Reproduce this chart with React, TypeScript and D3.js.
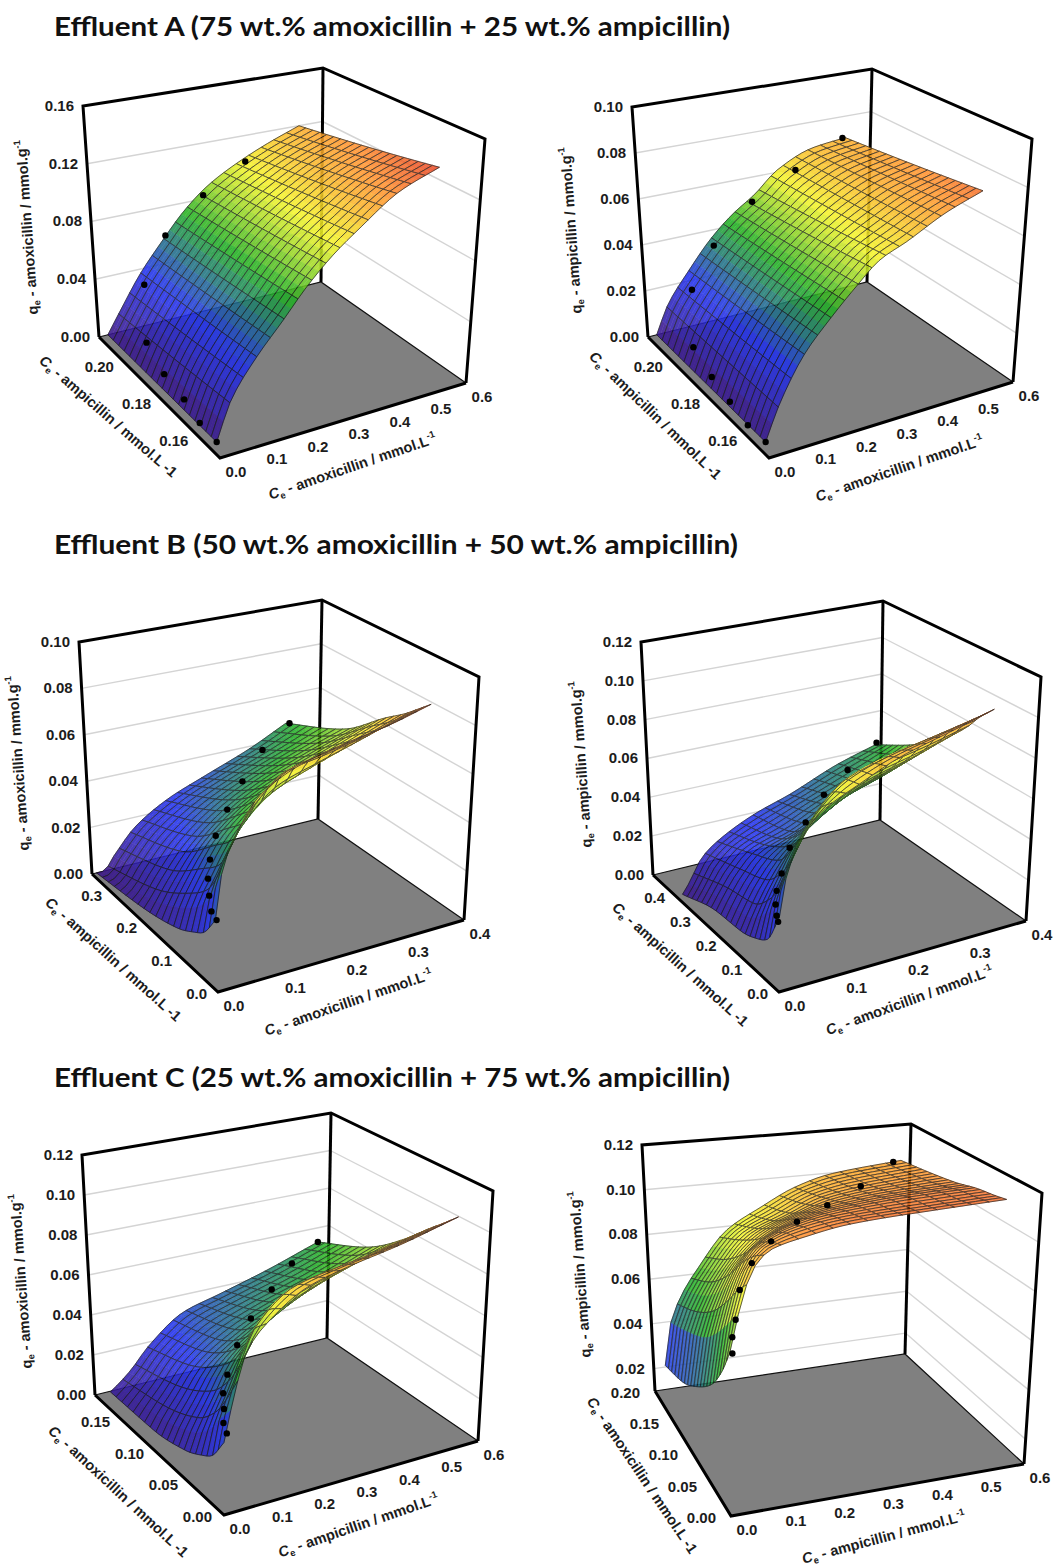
import React, { useEffect, useRef } from 'react';
import * as d3 from 'd3';

// surface tables: rows follow the v knots, columns the u knots
const a1U = [0.024, 0.06, 0.12, 0.18, 0.24, 0.3, 0.36, 0.45, 0.54];
const a1V = [0.157, 0.215];
const a1Z = [
  [0, 0.024, 0.046, 0.064, 0.083, 0.099, 0.112, 0.13, 0.14],
  [0, 0.014, 0.037, 0.056, 0.074, 0.088, 0.098, 0.11, 0.12],
];
const a1Dots = [[0.024, 0.157, 0], [0.01, 0.163, 0.006], [0.002, 0.1695, 0.014], [0.002, 0.18, 0.018], [0.002, 0.189, 0.028], [0.016, 0.192, 0.062], [0.108, 0.199, 0.082], [0.246, 0.2066, 0.094], [0.402, 0.215, 0.101]];

const a2U = [0.024, 0.06, 0.12, 0.18, 0.24, 0.3, 0.36, 0.45, 0.535];
const a2V = [0.157, 0.215];
const a2Z = [
  [0, 0.0135, 0.03, 0.041, 0.051, 0.06, 0.0645, 0.0725, 0.078],
  [0, 0.012, 0.0245, 0.036, 0.045, 0.052, 0.061, 0.068, 0.07],
];
const a2Dots = [[0.024, 0.157, 0], [0.008, 0.163, 0.003], [0.001, 0.171, 0.0068], [0.001, 0.1805, 0.0098], [0.001, 0.19, 0.015], [0.018, 0.193, 0.036], [0.102, 0.198, 0.048], [0.228, 0.203, 0.059], [0.378, 0.21, 0.0635], [0.528, 0.215, 0.07]];

const b1U = [0.008, 0.02, 0.04, 0.08, 0.14, 0.2, 0.28, 0.342];
const b1V = [0.02, 0.054, 0.079, 0.126, 0.216, 0.36];
const b1Z = [
  [0.025, 0.044, 0.056, 0.07, 0.078, 0.082, 0.086, 0.0905],
  [0.016, 0.03, 0.041, 0.058, 0.072, 0.075, 0.08, 0.085],
  [0.013, 0.024, 0.033, 0.049, 0.062, 0.068, 0.075, 0.081],
  [0.0085, 0.017, 0.026, 0.041, 0.053, 0.06, 0.068, 0.0745],
  [0.004, 0.008, 0.015, 0.027, 0.039, 0.047, 0.055, 0.0605],
  [0, 0, 0.0055, 0.016, 0.025, 0.031, 0.039, 0.047],
];
const b1Dots = [[0.01, 0.02, 0.025], [0.011, 0.036, 0.0264], [0.018, 0.054, 0.03], [0.027, 0.072, 0.034], [0.045, 0.097, 0.0375], [0.072, 0.126, 0.042], [0.113, 0.162, 0.046], [0.172, 0.216, 0.048], [0.248, 0.281, 0.0495], [0.348, 0.36, 0.0466]];

const b2U = [0.012, 0.024, 0.048, 0.08, 0.14, 0.2, 0.28, 0.344];
const b2V = [0.027, 0.0735, 0.108, 0.1715, 0.27, 0.402];
const b2Z = [
  [0.031, 0.05, 0.066, 0.076, 0.085, 0.093, 0.1, 0.106],
  [0.0156, 0.032, 0.048, 0.066, 0.083, 0.089, 0.094, 0.098],
  [0.012, 0.024, 0.038, 0.055, 0.072, 0.079, 0.085, 0.0906],
  [0.0084, 0.0156, 0.028, 0.04, 0.054, 0.064, 0.072, 0.08],
  [0.0072, 0.013, 0.023, 0.032, 0.038, 0.047, 0.056, 0.067],
  [0, 0.0048, 0.0162, 0.0234, 0.032, 0.038, 0.048, 0.054],
];
const b2Dots = [[0.01, 0.027, 0.029], [0.017, 0.049, 0.029], [0.026, 0.074, 0.031], [0.038, 0.098, 0.034], [0.061, 0.132, 0.037], [0.092, 0.172, 0.043], [0.14, 0.22, 0.047], [0.2, 0.284, 0.05], [0.268, 0.343, 0.052], [0.346, 0.402, 0.055]];

const c1U = [0.018, 0.036, 0.072, 0.12, 0.21, 0.3, 0.42, 0.546];
const c1V = [0.0105, 0.0285, 0.042, 0.0665, 0.114, 0.177];
const c1Z = [
  [0.029, 0.044, 0.068, 0.079, 0.091, 0.096, 0.101, 0.108],
  [0.018, 0.034, 0.05, 0.072, 0.087, 0.091, 0.095, 0.101],
  [0.0144, 0.026, 0.041, 0.059, 0.076, 0.083, 0.09, 0.096],
  [0.0096, 0.018, 0.03, 0.046, 0.06, 0.07, 0.079, 0.086],
  [0.0054, 0.011, 0.02, 0.032, 0.044, 0.052, 0.06, 0.07],
  [0.0048, 0.0072, 0.013, 0.023, 0.036, 0.041, 0.048, 0.057],
];
const c1Dots = [[0.024, 0.01, 0.033], [0.031, 0.019, 0.035], [0.048, 0.0285, 0.038], [0.062, 0.038, 0.042], [0.094, 0.051, 0.0456], [0.144, 0.0665, 0.053], [0.21, 0.0855, 0.0576], [0.304, 0.11, 0.061], [0.414, 0.1425, 0.0607], [0.546, 0.177, 0.057]];

const c2U = [0.007, 0.021, 0.054, 0.09, 0.156, 0.234, 0.312, 0.39, 0.545];
const c2V = [0.01, 0.029, 0.054, 0.09, 0.13, 0.176];
const c2Z = [
  [0.0705, 0.0826, 0.1019, 0.1085, 0.1118, 0.1145, 0.1156, 0.1162, 0.1173],
  [0.0595, 0.076, 0.0969, 0.1057, 0.1107, 0.1134, 0.1145, 0.1151, 0.1162],
  [0.049, 0.0672, 0.0881, 0.1002, 0.1074, 0.1112, 0.1129, 0.114, 0.1151],
  [0.0397, 0.0573, 0.076, 0.0881, 0.0991, 0.1057, 0.109, 0.1107, 0.1123],
  [0.032, 0.0507, 0.0661, 0.0771, 0.0914, 0.098, 0.1046, 0.1074, 0.1101],
  [0.0276, 0.0441, 0.0584, 0.0683, 0.0837, 0.0925, 0.1002, 0.1046, 0.1079],
];
const c2Dots = [[0.012, 0.01, 0.07], [0.017, 0.016, 0.075], [0.034, 0.028, 0.079], [0.053, 0.04, 0.088], [0.096, 0.06, 0.094], [0.159, 0.084, 0.097], [0.24, 0.11, 0.0987], [0.334, 0.136, 0.099], [0.436, 0.16, 0.101], [0.528, 0.176, 0.1075]];

const ticks06 = [0, 0.1, 0.2, 0.3, 0.4, 0.5, 0.6];
const ticks04 = [0, 0.1, 0.2, 0.3, 0.4];

const titles = [
  { text: 'Effluent A (75 wt.% amoxicillin + 25 wt.% ampicillin)', y: 36, w: 676 },
  { text: 'Effluent B (50 wt.% amoxicillin + 50 wt.% ampicillin)', y: 554, w: 684 },
  { text: 'Effluent C (25 wt.% amoxicillin + 75 wt.% ampicillin)', y: 1087, w: 676 },
];

const colorStops = [0, 0.28, 0.52, 0.72, 0.9, 1];
const colorRange = ['#3b1585', '#2030ee', '#22b022', '#f4f428', '#ff8f2c', '#e63a26'];

const panels: any[] = [
  {
    ff: [220, 458], fr: [466, 383], fl: [99, 337], fb: [321, 282], tl: [83, 106], tb: [323, 68], tr: [485, 139],
    uDom: [0, 0.6], vDom: [0.15, 0.215], zDom: [0, 0.16], colorMax: 0.142,
    uK: a1U, vK: a1V, zT: a1Z, dots: a1Dots,
    uTicks: ticks06, vTicks: [0.16, 0.18, 0.2], zTicks: [0, 0.04, 0.08, 0.12, 0.16], vFmt: '.2f', dxV: -13,
    zTitle: [32, 227, -94], vTitle: [105, 420, 41], uTitle: [354, 471, -19],
    zName: 'amoxicillin', vName: 'ampicillin', uName: 'amoxicillin',
  },
  {
    ff: [769, 458], fr: [1013, 382], fl: [648, 337], fb: [867, 282], tl: [632, 107], tb: [872, 69], tr: [1032, 139],
    uDom: [0, 0.6], vDom: [0.15, 0.215], zDom: [0, 0.1], colorMax: 0.083,
    uK: a2U, vK: a2V, zT: a2Z, dots: a2Dots,
    uTicks: ticks06, vTicks: [0.16, 0.18, 0.2], zTicks: [0, 0.02, 0.04, 0.06, 0.08, 0.1], vFmt: '.2f', dxV: -13,
    zTitle: [576, 230, -94], vTitle: [652, 419, 44], uTitle: [901, 473, -19],
    zName: 'ampicillin', vName: 'ampicillin', uName: 'amoxicillin',
  },
  {
    ff: [218, 992], fr: [464, 920], fl: [92, 874], fb: [318, 819], tl: [79, 642], tb: [322, 600], tr: [479, 677],
    uDom: [0, 0.4], vDom: [0, 0.36], zDom: [0, 0.1], colorMax: 0.095,
    uK: b1U, vK: b1V, zT: b1Z, dots: b1Dots,
    uTicks: ticks04, vTicks: [0, 0.1, 0.2, 0.3], zTicks: [0, 0.02, 0.04, 0.06, 0.08, 0.1], vFmt: '.1f', dxV: -11,
    zTitle: [23, 763, -94], vTitle: [110, 963, 42], uTitle: [350, 1007, -19],
    zName: 'amoxicillin', vName: 'ampicillin', uName: 'amoxicillin',
  },
  {
    ff: [779, 992], fr: [1026, 921], fl: [653, 875], fb: [880, 820], tl: [641, 642], tb: [883, 601], tr: [1041, 677],
    uDom: [0, 0.4], vDom: [0, 0.49], zDom: [0, 0.12], colorMax: 0.112,
    uK: b2U, vK: b2V, zT: b2Z, dots: b2Dots,
    uTicks: ticks04, vTicks: [0, 0.1, 0.2, 0.3, 0.4], zTicks: [0, 0.02, 0.04, 0.06, 0.08, 0.1, 0.12], vFmt: '.1f', dxV: -11,
    zTitle: [586, 764, -94], vTitle: [677, 968, 42], uTitle: [911, 1005, -20],
    zName: 'ampicillin', vName: 'ampicillin', uName: 'amoxicillin',
  },
  {
    ff: [224, 1515], fr: [478, 1441], fl: [95, 1395], fb: [327, 1338], tl: [82, 1155], tb: [331, 1113], tr: [493, 1191],
    uDom: [0, 0.6], vDom: [0, 0.19], zDom: [0, 0.12], colorMax: 0.113,
    uK: c1U, vK: c1V, zT: c1Z, dots: c1Dots,
    uTicks: ticks06, vTicks: [0, 0.05, 0.1, 0.15], zTicks: [0, 0.02, 0.04, 0.06, 0.08, 0.1, 0.12], vFmt: '.2f', dxV: -12,
    zTitle: [26, 1281, -94], vTitle: [115, 1495, 43], uTitle: [360, 1530, -19],
    zName: 'amoxicillin', vName: 'amoxicillin', uName: 'ampicillin',
  },
  {
    ff: [731, 1516], fr: [1024, 1464], fl: [655, 1391], fb: [905, 1354], tl: [642, 1145], tb: [911, 1124], tr: [1042, 1193],
    uDom: [0, 0.6], vDom: [0, 0.2], zDom: [0.01, 0.12], colorMax: 0.124,
    uK: c2U, vK: c2V, zT: c2Z, dots: c2Dots,
    uTicks: ticks06, vTicks: [0, 0.05, 0.1, 0.15, 0.2], zTicks: [0.02, 0.04, 0.06, 0.08, 0.1, 0.12], vFmt: '.2f', dxV: -15,
    zTitle: [585, 1274, -94], vTitle: [638, 1478, 56], uTitle: [885, 1542, -15],
    zName: 'ampicillin', vName: 'amoxicillin', uName: 'ampicillin',
  },
];

const MESH_U = 16;
const MESH_V = 20;
const SUB = 2;
const LABEL_FONT = '"Liberation Sans", Arial, sans-serif';

// monotone cubic through the read values, so the mesh stays smooth between knots
function monotone(xs: number[], ys: number[]) {
  const n = xs.length;
  if (n === 2) return (x: number) => ys[0] + (ys[1] - ys[0]) * (x - xs[0]) / (xs[1] - xs[0]);
  const d: number[] = [];
  for (let i = 0; i < n - 1; i++) d.push((ys[i + 1] - ys[i]) / (xs[i + 1] - xs[i]));
  const m = [d[0]];
  for (let i = 1; i < n - 1; i++) m.push(d[i - 1] * d[i] <= 0 ? 0 : 2 * d[i - 1] * d[i] / (d[i - 1] + d[i]));
  m.push(d[n - 2]);
  return (x: number) => {
    let i = 0;
    while (i < n - 2 && x > xs[i + 1]) i++;
    const h = xs[i + 1] - xs[i], t = (x - xs[i]) / h;
    const t2 = t * t, t3 = t2 * t;
    return (2 * t3 - 3 * t2 + 1) * ys[i] + (t3 - 2 * t2 + t) * h * m[i] + (-2 * t3 + 3 * t2) * ys[i + 1] + (t3 - t2) * h * m[i + 1];
  };
}

const mix = (p: number[], q: number[], t: number) => [p[0] + (q[0] - p[0]) * t, p[1] + (q[1] - p[1]) * t];

function makeProjection(p: any) {
  const su = d3.scaleLinear().domain(p.uDom).range([0, 1]);
  const sv = d3.scaleLinear().domain(p.vDom).range([0, 1]);
  const sz = d3.scaleLinear().domain(p.zDom).range([0, 1]);
  // the front top corner is not drawn, it follows from the three visible verticals
  const tf = [
    p.ff[0] + (p.tl[0] - p.fl[0]) + (p.tr[0] - p.fr[0]) - (p.tb[0] - p.fb[0]),
    p.ff[1] + (p.tl[1] - p.fl[1]) + (p.tr[1] - p.fr[1]) - (p.tb[1] - p.fb[1]),
  ];
  return (u: number, v: number, z: number) => {
    const a = sv(v), b = su(u), w = sz(z);
    const floor = mix(mix(p.ff, p.fr, b), mix(p.fl, p.fb, b), a);
    const top = mix(mix(tf, p.tr, b), mix(p.tl, p.tb, b), a);
    return mix(floor, top, w);
  };
}

function drawTitle(g: any, spec: number[], parts: any[]) {
  const t = g.append('text')
    .attr('transform', 'translate(' + spec[0] + ',' + spec[1] + ') rotate(' + spec[2] + ')')
    .attr('text-anchor', 'middle')
    .attr('font-family', LABEL_FONT)
    .attr('font-weight', 700)
    .attr('font-size', 14.6)
    .attr('fill', '#1c1c1c');
  let back = 0;
  parts.forEach(part => {
    const s = t.append('tspan').text(part.t);
    let dy = back;
    back = 0;
    if (part.k === 'sub') { dy += 3; back = -3; s.attr('font-size', 9.5); }
    if (part.k === 'sup') { dy += -6; back = 6; s.attr('font-size', 9.5); }
    if (part.k === 'i') s.attr('font-style', 'italic');
    if (dy) s.attr('dy', dy);
  });
}

function drawPanel(root: any, p: any) {
  const g = root.append('g');
  const proj = makeProjection(p);
  const line = d3.line();
  const [u0, u1] = p.uDom, [v0, v1] = p.vDom, [z0, z1] = p.zDom;

  const wall = (pts: number[][]) => line(pts as any);
  p.zTicks.forEach((z: number) => {
    if (z === z0 || z === z1) return;
    [[proj(u0, v1, z), proj(u1, v1, z)], [proj(u1, v1, z), proj(u1, v0, z)]].forEach(seg => {
      g.append('path').attr('d', wall(seg)).attr('stroke', '#d4d4d4').attr('stroke-width', 1.4).attr('fill', 'none');
    });
  });

  g.append('path')
    .attr('d', line([p.ff, p.fr, p.fb, p.fl] as any) + 'Z')
    .attr('fill', '#808080');
  g.append('path').attr('d', line([p.fl, p.fb, p.fr] as any)).attr('stroke', '#111').attr('stroke-width', 1.2).attr('fill', 'none');

  const heavy = [
    [p.fl, p.tl, p.tb, p.tr, p.fr],
    [p.fb, p.tb],
    [p.fl, p.ff, p.fr],
  ];
  heavy.forEach(seg => {
    g.append('path').attr('d', line(seg as any)).attr('stroke', '#000').attr('stroke-width', 3).attr('fill', 'none').attr('stroke-linejoin', 'miter');
  });

  // surface, resampled on the mesh from the table
  const color = d3.scaleLinear<string>()
    .domain(colorStops.map(s => s * p.colorMax))
    .range(colorRange)
    .clamp(true);
  const nu = MESH_U * SUB, nv = MESH_V * SUB;
  const uAxis = d3.range(nu + 1).map(i => p.uK[0] + (p.uK[p.uK.length - 1] - p.uK[0]) * i / nu);
  const vAxis = d3.range(nv + 1).map(j => p.vK[0] + (p.vK[p.vK.length - 1] - p.vK[0]) * j / nv);
  const rowFns = p.zT.map((row: number[]) => monotone(p.uK, row));
  const zGrid = uAxis.map(u => {
    const col = monotone(p.vK, rowFns.map((f: any) => f(u)));
    return vAxis.map(v => Math.max(col(v), 0));
  });
  const pt = (i: number, j: number) => proj(uAxis[i], vAxis[j], zGrid[i][j]);

  const surf = g.append('g').attr('opacity', 0.88);
  for (let cj = MESH_V - 1; cj >= 0; cj--) {
    for (let ci = MESH_U - 1; ci >= 0; ci--) {
      for (let sj = SUB - 1; sj >= 0; sj--) {
        for (let si = SUB - 1; si >= 0; si--) {
          const i = ci * SUB + si, j = cj * SUB + sj;
          const c = color((zGrid[i][j] + zGrid[i + 1][j] + zGrid[i][j + 1] + zGrid[i + 1][j + 1]) / 4);
          surf.append('path')
            .attr('d', line([pt(i, j), pt(i + 1, j), pt(i + 1, j + 1), pt(i, j + 1)] as any) + 'Z')
            .attr('fill', c).attr('stroke', c).attr('stroke-width', 0.5);
        }
      }
      const edge: number[][] = [];
      const i0 = ci * SUB, j0 = cj * SUB;
      for (let k = 0; k <= SUB; k++) edge.push(pt(i0 + k, j0));
      for (let k = 1; k <= SUB; k++) edge.push(pt(i0 + SUB, j0 + k));
      for (let k = 1; k <= SUB; k++) edge.push(pt(i0 + SUB - k, j0 + SUB));
      for (let k = 1; k < SUB; k++) edge.push(pt(i0, j0 + SUB - k));
      surf.append('path').attr('d', line(edge as any) + 'Z')
        .attr('fill', 'none').attr('stroke', '#111').attr('stroke-width', 0.85).attr('stroke-opacity', 0.9);
    }
  }

  p.dots.forEach((d: number[]) => {
    const c = proj(d[0], d[1], d[2]);
    g.append('circle').attr('cx', c[0]).attr('cy', c[1]).attr('r', 3.2).attr('fill', '#000');
  });

  const label = (x: number, y: number, text: string, anchor: string) =>
    g.append('text').attr('x', x).attr('y', y).attr('text-anchor', anchor)
      .attr('dominant-baseline', 'middle')
      .attr('font-family', LABEL_FONT).attr('font-weight', 700).attr('font-size', 15).attr('fill', '#1c1c1c')
      .text(text);

  const fmt2 = d3.format('.2f'), fmt1 = d3.format('.1f'), fmtV = d3.format(p.vFmt);
  p.zTicks.forEach((z: number) => {
    const c = proj(u0, v1, z);
    label(c[0] - 9, c[1] + 1, fmt2(z), 'end');
  });
  p.uTicks.forEach((u: number) => {
    const c = proj(u, v0, z0);
    label(c[0] + 16, c[1] + 15, fmt1(u), 'middle');
  });
  p.vTicks.forEach((v: number) => {
    const c = proj(u0, v, z0);
    label(c[0] + p.dxV, c[1] + 3, fmtV(v), 'end');
  });

  drawTitle(g, p.zTitle, [{ t: 'q' }, { t: 'e', k: 'sub' }, { t: ' - ' + p.zName + ' / mmol.g' }, { t: '-1', k: 'sup' }]);
  drawTitle(g, p.vTitle, [{ t: 'C', k: 'i' }, { t: 'e', k: 'sub' }, { t: ' - ' + p.vName + ' / mmol.L -1' }]);
  drawTitle(g, p.uTitle, [{ t: 'C', k: 'i' }, { t: 'e', k: 'sub' }, { t: ' - ' + p.uName + ' / mmol.L' }, { t: '-1', k: 'sup' }]);
}

export default function App() {
  const ref = useRef<SVGSVGElement | null>(null);

  useEffect(() => {
    const svg = d3.select(ref.current);
    svg.selectAll('*').remove();
    titles.forEach(t => {
      svg.append('text')
        .attr('x', 54).attr('y', t.y)
        .attr('font-family', 'Lato, "Open Sans", sans-serif')
        .attr('font-weight', 700)
        .attr('font-size', 26)
        .attr('fill', '#111')
        .attr('textLength', t.w)
        .attr('lengthAdjust', 'spacingAndGlyphs')
        .text(t.text);
    });
    panels.forEach(p => drawPanel(svg, p));
  }, []);

  return (
    <svg
      ref={ref}
      width={1061}
      height={1568}
      style={{ position: 'absolute', left: 0, top: 0, background: '#fff' }}
    />
  );
}
